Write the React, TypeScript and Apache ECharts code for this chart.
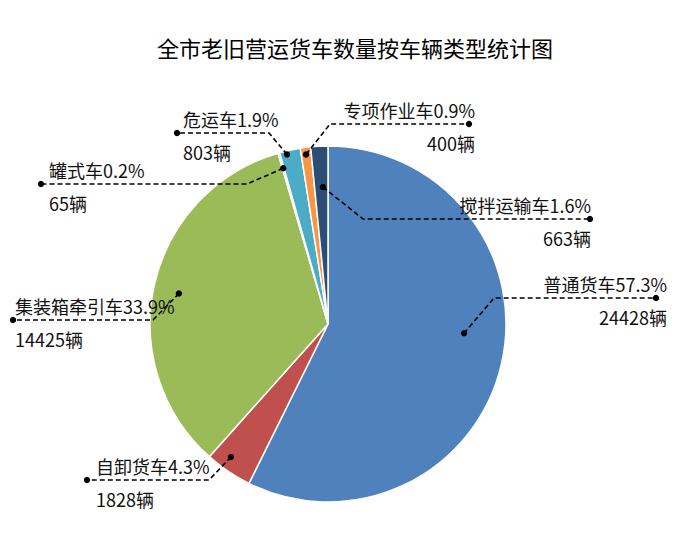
import React, { useEffect, useRef } from 'react'
import * as echarts from 'echarts'

// vehicle types and counts, clockwise from 12 o'clock
const categories = ['普通货车', '自卸货车', '集装箱牵引车', '罐式车', '危运车', '专项作业车', '搅拌运输车']
const counts = [24428, 1828, 14425, 65, 803, 400, 663]
const colors = ['#4F81BD', '#C0504D', '#9BBB59', '#8064A2', '#4BACC6', '#F79646', '#2C4D75']

const CX = 328
const CY = 324
const R = 178

// leader line layout, relative to the pie centre
// at: where in the slice the line starts (0..1 of its angle), r: share of radius
const guides = [
  { at: 0.455, r: 0.766, elbow: [166, -26], endX: 328, textX: 339, align: 'right' },
  { at: 0.63, r: 0.925, elbow: [-119, 156], endX: -241, textX: -232, align: 'left' },
  { at: 0.49, r: 0.855, elbow: [-175, -4], endX: -315, textX: -313, align: 'left' },
  { at: 0.5, r: 0.91, elbow: [-81, -140], endX: -287, textX: -279, align: 'left' },
  { at: 0.32, r: 0.98, elbow: [-59, -191], endX: -151, textX: -145, align: 'left' },
  { at: 0.47, r: 0.96, elbow: [2, -200], endX: 141, textX: 147, align: 'right' },
  { at: 0.62, r: 0.77, elbow: [35, -105], endX: 262, textX: 263, align: 'right' },
]

const total = counts.reduce((a, b) => a + b, 0)

const guidePoints = (i: number) => {
  const before = counts.slice(0, i).reduce((a, b) => a + b, 0)
  const g = guides[i]
  const deg = ((before + counts[i] * g.at) / total) * 360
  const rad = (deg * Math.PI) / 180
  const start = [CX + g.r * R * Math.sin(rad), CY - g.r * R * Math.cos(rad)]
  const elbow = [CX + g.elbow[0], CY + g.elbow[1]]
  const end = [CX + g.endX, CY + g.elbow[1]]
  return [start, elbow, end]
}

const App: React.FC = () => {
  const chartRef = useRef<HTMLDivElement>(null)

  useEffect(() => {
    if (!chartRef.current) return
    const chart = echarts.init(chartRef.current, undefined, { renderer: 'svg' })

    // leader lines sit above the slices, so they are drawn as graphics
    const leaders: any[] = []
    categories.forEach((_, i) => {
      const pts = guidePoints(i)
      leaders.push({
        type: 'polyline',
        shape: { points: pts },
        style: { stroke: '#000', lineWidth: 1.6, lineDash: [5, 3], fill: null },
        z: 100,
      })
      ;[pts[0], pts[2]].forEach(p => {
        leaders.push({
          type: 'circle',
          shape: { cx: p[0], cy: p[1], r: 3.2 },
          style: { fill: '#000' },
          z: 101,
        })
      })
    })

    const option: any = {
      animation: false,
      backgroundColor: '#fff',
      textStyle: { fontFamily: '"Noto Sans CJK SC", "Noto Sans", sans-serif' },
      title: {
        text: '全市老旧营运货车数量按车辆类型统计图',
        left: 152,
        top: 31,
        textStyle: { fontSize: 22, fontWeight: 'normal', color: '#000' },
      },
      color: colors,
      graphic: leaders,
      series: [
        {
          type: 'pie',
          center: [CX, CY],
          radius: R,
          startAngle: 90,
          clockwise: true,
          avoidLabelOverlap: false,
          emphasis: { disabled: true },
          itemStyle: { borderColor: '#fff', borderWidth: 1.5 },
          data: categories.map((name, i) => ({ name, value: counts[i] })),
          label: {
            show: true,
            position: 'outside',
            fontSize: 18,
            lineHeight: 33,
            color: '#111',
            formatter: (p: any) =>
              `${p.name}${((p.value / total) * 100).toFixed(1)}%\n${p.value}辆`,
          },
          labelLine: { show: false },
          labelLayout: (params: any) => {
            const g = guides[params.dataIndex]
            return {
              x: CX + g.textX,
              y: CY + g.elbow[1] + 2,
              align: g.align,
              verticalAlign: 'middle',
            }
          },
        },
      ],
    }

    chart.setOption(option)
    return () => chart.dispose()
  }, [])

  return (
    <div
      ref={chartRef}
      style={{ position: 'fixed', left: 0, top: 0, width: 684, height: 545 }}
    />
  )
}

export default App
